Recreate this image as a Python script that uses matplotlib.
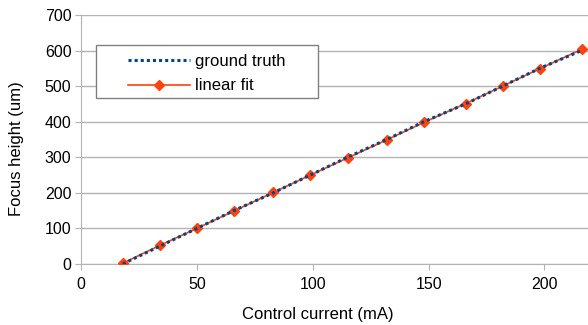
import matplotlib
matplotlib.use('Agg')
import matplotlib.pyplot as plt
from matplotlib.patches import Rectangle

current_ma = [18, 34, 50, 66, 83, 99, 115, 132, 148, 166, 182, 198, 216]
truth_um = [0, 50, 100, 150, 200, 250, 300, 350, 400, 450, 500, 550, 600]
fit_um = [2, 52, 100, 149, 201, 250, 298, 349, 398, 451, 500, 549, 603]

plt.rcParams['font.family'] = ['Liberation Sans', 'DejaVu Sans']
grey = '#b3b3b3'

fig = plt.figure(figsize=(5.88, 3.25), dpi=100)
ax = fig.add_axes([0.138, 0.188, 0.862, 0.766])

ax.plot(current_ma, fit_um, color='#ff420e', lw=1.2, marker='D',
        markersize=5.5, label='linear fit', zorder=3)
ax.plot(current_ma, truth_um, color='#004586', lw=2.2, ls=(0, (1, 1)),
        label='ground truth', zorder=4)

ax.set_xlim(0, 218.8)
ax.set_ylim(0, 700)
ax.set_xticks([0, 50, 100, 150, 200])
ax.set_yticks(range(0, 701, 100))
ax.yaxis.grid(True, color=grey, lw=1)
ax.set_axisbelow(True)
for s in ['top', 'right']:
    ax.spines[s].set_visible(False)
for s in ['left', 'bottom']:
    ax.spines[s].set_color(grey)
ax.tick_params(colors=grey, labelcolor='black', labelsize=11.5, length=4.5)
ax.tick_params(axis='y', pad=2.5)
ax.tick_params(axis='x', pad=5)
ax.set_xlabel('Control current (mA)', fontsize=12)
ax.set_ylabel('Focus height (um)', fontsize=12)
ax.xaxis.set_label_coords(0.466, -0.175)
ax.yaxis.set_label_coords(-0.112, 0.464)

# legend frame drawn separately (wide side padding like the original)
ax.add_patch(Rectangle((0.0296, 0.6667), 0.438, 0.2129, transform=ax.transAxes,
                       facecolor='white', edgecolor='#808080', lw=1, zorder=5))
h, l = ax.get_legend_handles_labels()
leg = ax.legend(h[::-1], l[::-1], loc='upper left', bbox_to_anchor=(0.0927, 0.844),
                frameon=False, fontsize=12, handlelength=3.7, handletextpad=0.3,
                labelspacing=0.58, borderpad=0, borderaxespad=0)
leg.set_zorder(6)

fig.savefig('out.png', dpi=100)
